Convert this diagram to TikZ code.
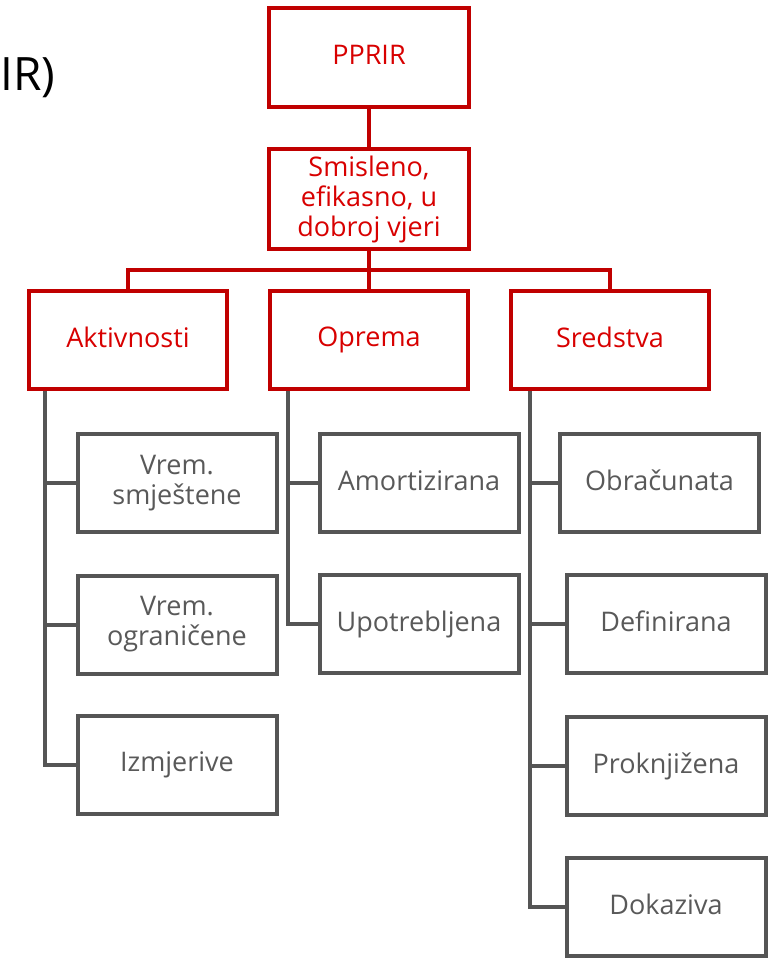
\documentclass[tikz,border=0pt]{standalone}
\usepackage{fontspec}
\setmainfont{Open Sans}
\definecolor{boxred}{HTML}{C00000}
\definecolor{txtred}{HTML}{D80000}
\definecolor{boxgray}{HTML}{555555}
\definecolor{txtgray}{HTML}{595959}
% fixed first-line strut so every label sits at the same height
\newcommand{\labelstrut}{\rule[-5pt]{0pt}{25pt}}
\tikzset{
  boxtext/.style={align=center, inner sep=0pt,
    font=\fontsize{27}{30}\selectfont, execute at begin node={\labelstrut}},
  redbox/.style={boxtext, draw=boxred, line width=4pt, fill=white, text=txtred,
    minimum width=200pt, minimum height=99pt},
  graybox/.style={boxtext, draw=boxgray, line width=4pt, fill=white, text=txtgray,
    minimum width=199pt, minimum height=98pt},
  redlink/.style={draw=boxred, line width=4pt},
  graylink/.style={draw=boxgray, line width=4pt},
}
\begin{document}
\begin{tikzpicture}[x=1pt,y=-1pt]
\useasboundingbox (0,0) rectangle (768,958);
\clip (0,0) rectangle (768,958);
\fill[white] (0,0) rectangle (768,958);

% title fragment
\node[anchor=west, text=black, font=\fontsize{46}{52}\selectfont, inner sep=0pt] (title) at (0,78) {IR)};

% top levels
\node[redbox] (pprir) at (369,57.5) {PPRIR};
\node[redbox, minimum height=100pt] (smis) at (369,199) {Smisleno,\\efikasno, u\\dobroj vjeri};
\node[redbox, minimum width=198pt, minimum height=98pt] (akt) at (128,340) {Aktivnosti};
\node[redbox, minimum width=198pt, minimum height=98pt] (opr) at (369,340) {Oprema};
\node[redbox, minimum width=198pt, minimum height=98pt] (sre) at (610,340) {Sredstva};

\coordinate (bus) at (369,270);
\draw[redlink] (pprir) -- (smis);
\draw[redlink] (smis) -- (opr);
\draw[redlink] (akt.north) |- (bus) -| (sre.north);

% Aktivnosti children
\node[graybox] (a1) at (177,483) {Vrem.\\smještene};
\node[graybox] (a2) at (177,624.5) {Vrem.\\ograničene};
\node[graybox] (a3) at (177,765) {Izmjerive};

% Oprema children
\node[graybox] (o1) at (419,483) {Amortizirana};
\node[graybox] (o2) at (419,624) {Upotrebljena};

% Sredstva children
\node[graybox] (s1) at (659.5,483) {Obračunata};
\node[graybox] (s2) at (666,624) {Definirana};
\node[graybox] (s3) at (666,766) {Proknjižena};
\node[graybox] (s4) at (666,907) {Dokaziva};

% trunks
\coordinate (ta) at ([xshift=18pt]akt.south west);
\coordinate (to) at ([xshift=20pt]opr.south west);
\coordinate (ts) at ([xshift=21pt]sre.south west);
\draw[graylink] (ta) |- (a3.west);
\draw[graylink] (ta |- a1.west) -- (a1.west);
\draw[graylink] (ta |- a2.west) -- (a2.west);
\draw[graylink] (to) |- (o2.west);
\draw[graylink] (to |- o1.west) -- (o1.west);
\draw[graylink] (ts) |- (s4.west);
\draw[graylink] (ts |- s1.west) -- (s1.west);
\draw[graylink] (ts |- s2.west) -- (s2.west);
\draw[graylink] (ts |- s3.west) -- (s3.west);
\end{tikzpicture}
\end{document}
